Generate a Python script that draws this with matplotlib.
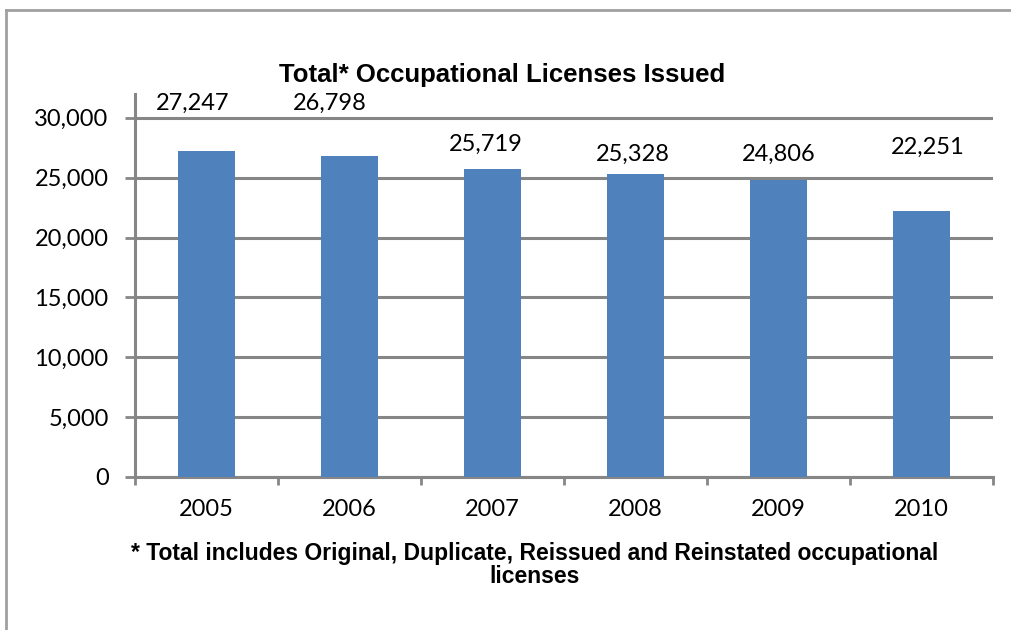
import matplotlib.pyplot as plt
from matplotlib.lines import Line2D
from matplotlib.ticker import FuncFormatter, FixedLocator

years = ['2005', '2006', '2007', '2008', '2009', '2010']
licenses = [27247, 26798, 25719, 25328, 24806, 22251]
# labels were placed by hand in the original, so keep their spots here
label_x = [-0.1, -0.14, -0.05, -0.02, 0.0, 0.04]   # offset from bar centre (category units)
label_y = [31250, 31250, 27750, 26950, 26950, 27550]

title = 'Total* Occupational Licenses Issued'
footnote = '* Total includes Original, Duplicate, Reissued and Reinstated occupational\nlicenses'

grey = '#868686'
body = ['Lato', 'DejaVu Sans']
bold = ['Liberation Sans', 'DejaVu Sans']

fig = plt.figure(figsize=(10.11, 6.3), dpi=100)
# outer chart frame: only the left and top edges show in the picture
fig.add_artist(Line2D([0.006, 0.006], [0.0, 0.984], transform=fig.transFigure,
                      color='#a0a0a0', linewidth=2))
fig.add_artist(Line2D([0.006, 1.0], [0.984, 0.984], transform=fig.transFigure,
                      color='#a0a0a0', linewidth=2))

ax = fig.add_axes([0.1335, 0.243, 0.849, 0.608])
x = list(range(len(years)))
ax.bar(x, licenses, width=0.4, color='#4F81BD', zorder=3)

for xi, v, dx, ly in zip(x, licenses, label_x, label_y):
    ax.text(xi + dx, ly, f'{v:,}', ha='center', va='center', fontsize=17, family=body)

ax.set_xlim(-0.5, len(years) - 0.5)
ax.set_ylim(0, 32000)
ax.set_yticks(range(0, 30001, 5000))
ax.yaxis.set_major_formatter(FuncFormatter(lambda v, p: f'{int(v):,}'))
ax.grid(axis='y', color=grey, linewidth=2.2, zorder=0)
ax.set_xticks(x)
ax.set_xticklabels(years, family=body, fontsize=17)
ax.xaxis.set_minor_locator(FixedLocator([i - 0.5 for i in range(len(years) + 1)]))
ax.tick_params(axis='x', which='major', length=0, pad=16)
ax.tick_params(axis='x', which='minor', length=6, width=2, color=grey, direction='out')
ax.tick_params(axis='y', length=7, width=2, color=grey, pad=12, labelsize=17)
for lab in ax.get_yticklabels():
    lab.set_family(body)

for s in ['top', 'right']:
    ax.spines[s].set_visible(False)
for s in ['left', 'bottom']:
    ax.spines[s].set_color(grey)
    ax.spines[s].set_linewidth(2.2)

fig.text(0.497, 0.881, title, ha='center', va='center', fontsize=18.5,
         fontweight='bold', family=bold)
fig.text(0.529, 0.103, footnote, ha='center', va='center', fontsize=16.5,
         fontweight='bold', family=bold, linespacing=1.0)

fig.savefig('out.png', dpi=100)
